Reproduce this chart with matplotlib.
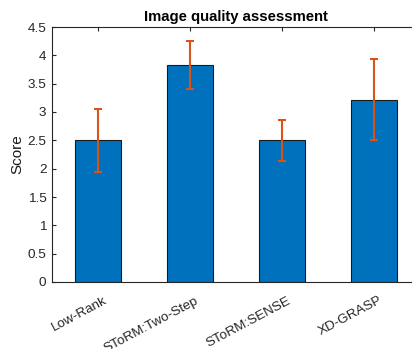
import matplotlib
matplotlib.use("Agg")
import matplotlib.pyplot as plt
import matplotlib.transforms as mtransforms
import numpy as np

categories = ["Low-Rank", "SToRM:Two-Step", "SToRM:SENSE", "XD-GRASP"]
scores = [2.50, 3.83, 2.50, 3.22]
errors = [0.56, 0.43, 0.36, 0.71]
yticks = [0, 0.5, 1, 1.5, 2, 2.5, 3, 3.5, 4, 4.5]
ytick_labels = ["0", "0.5", "1", "1.5", "2", "2.5", "3", "3.5", "4", "4.5"]

plt.rcParams['font.family'] = ['Liberation Sans', 'DejaVu Sans']
W, H = 412, 349
fig = plt.figure(figsize=(W/100, H/100), dpi=100)
left, right, top, bottom = 52, 420, 27, 282
ax = fig.add_axes([left/W, 1-bottom/H, (right-left)/W, (bottom-top)/H])

x = np.arange(1, len(categories)+1)
ax.bar(x, scores, width=0.5, color='#0072BD', edgecolor='#1a1a1a', linewidth=0.8, zorder=2)
ax.errorbar(x, scores, yerr=errors, fmt='none', ecolor='#D95319', elinewidth=1.5,
            capsize=3, capthick=1.5, zorder=3)

ax.set_xlim(0.5, 4.5)
ax.set_ylim(0, 4.5)
ax.set_yticks(yticks)
ax.set_yticklabels(ytick_labels)
ax.set_xticks(x)
ax.set_xticklabels(categories, rotation=28, ha='right', va='top', rotation_mode='anchor')
ax.tick_params(direction='in', length=3, width=0.8, colors='#262626', labelsize=9.7,
               top=True, right=True)
ax.tick_params(axis='y', pad=4)
ax.tick_params(axis='x', pad=9)
offset = mtransforms.ScaledTranslation(5/100, 0, fig.dpi_scale_trans)
for lab in ax.get_xticklabels():
    lab.set_transform(lab.get_transform() + offset)
for s in ax.spines.values():
    s.set_color('#262626')
    s.set_linewidth(0.8)
ax.set_ylabel('Score', fontsize=11, color='#1a1a1a', labelpad=2)
ax.set_title('Image quality assessment', fontsize=10.7, fontweight='bold', pad=4)

fig.savefig('out.png', dpi=100)
